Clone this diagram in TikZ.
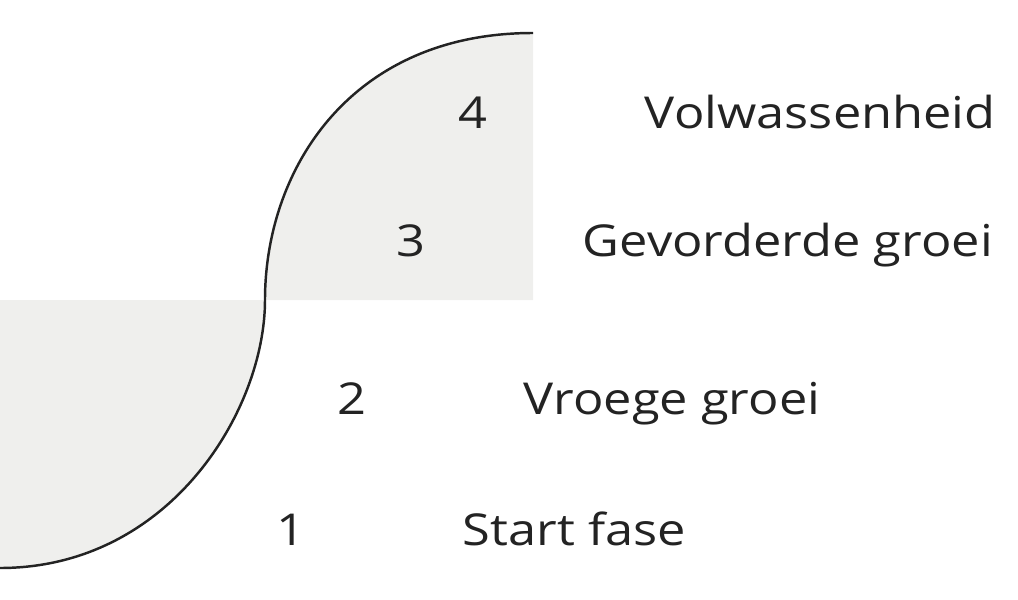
\documentclass[tikz,border=0pt]{standalone}
\usepackage{fontspec}
\setmainfont[FakeStretch=1.15]{Open Sans}
\usetikzlibrary{positioning}
\definecolor{phasegray}{RGB}{239,239,237}
\definecolor{inkgray}{RGB}{35,35,35}
\tikzset{
  num/.style={inner sep=0pt, anchor=base, text=inkgray, font=\fontsize{12.5}{15}\selectfont},
  phase/.style={inner sep=0pt, text=inkgray, font=\fontsize{12.5}{15}\selectfont},
}

\begin{document}
\begin{tikzpicture}[x=0.01cm, y=-0.01cm, node distance=1.56cm]
  \useasboundingbox (0,0) rectangle (1018,600);

  % shaded halves of the curve
  \fill[phasegray] (0,300) -- (265,300) .. controls (265,410) and (170,568) .. (0,568) -- cycle;
  \fill[phasegray] (265,300) .. controls (265,170) and (350,33) .. (533,33) -- (533,300) -- cycle;

  % s-curve
  \draw[inkgray, line width=0.7pt] (0,568) .. controls (170,568) and (265,410) .. (265,300)
    .. controls (265,170) and (350,33) .. (533,33);

  \node[num] (n4) at (473,128) {4};
  \node[num] (n3) at (411,256) {3};
  \node[num] (n2) at (352,414) {2};
  \node[num] (n1) at (291,545) {1};

  \node[phase, base right=of n4] (volw) {Volwassenheid};
  \node[phase, base right=of n3] (gevo) {Gevorderde groei};
  \node[phase, base right=of n2] (vroe) {Vroege groei};
  \node[phase, base right=of n1] (start) {Start fase};
\end{tikzpicture}
\end{document}
